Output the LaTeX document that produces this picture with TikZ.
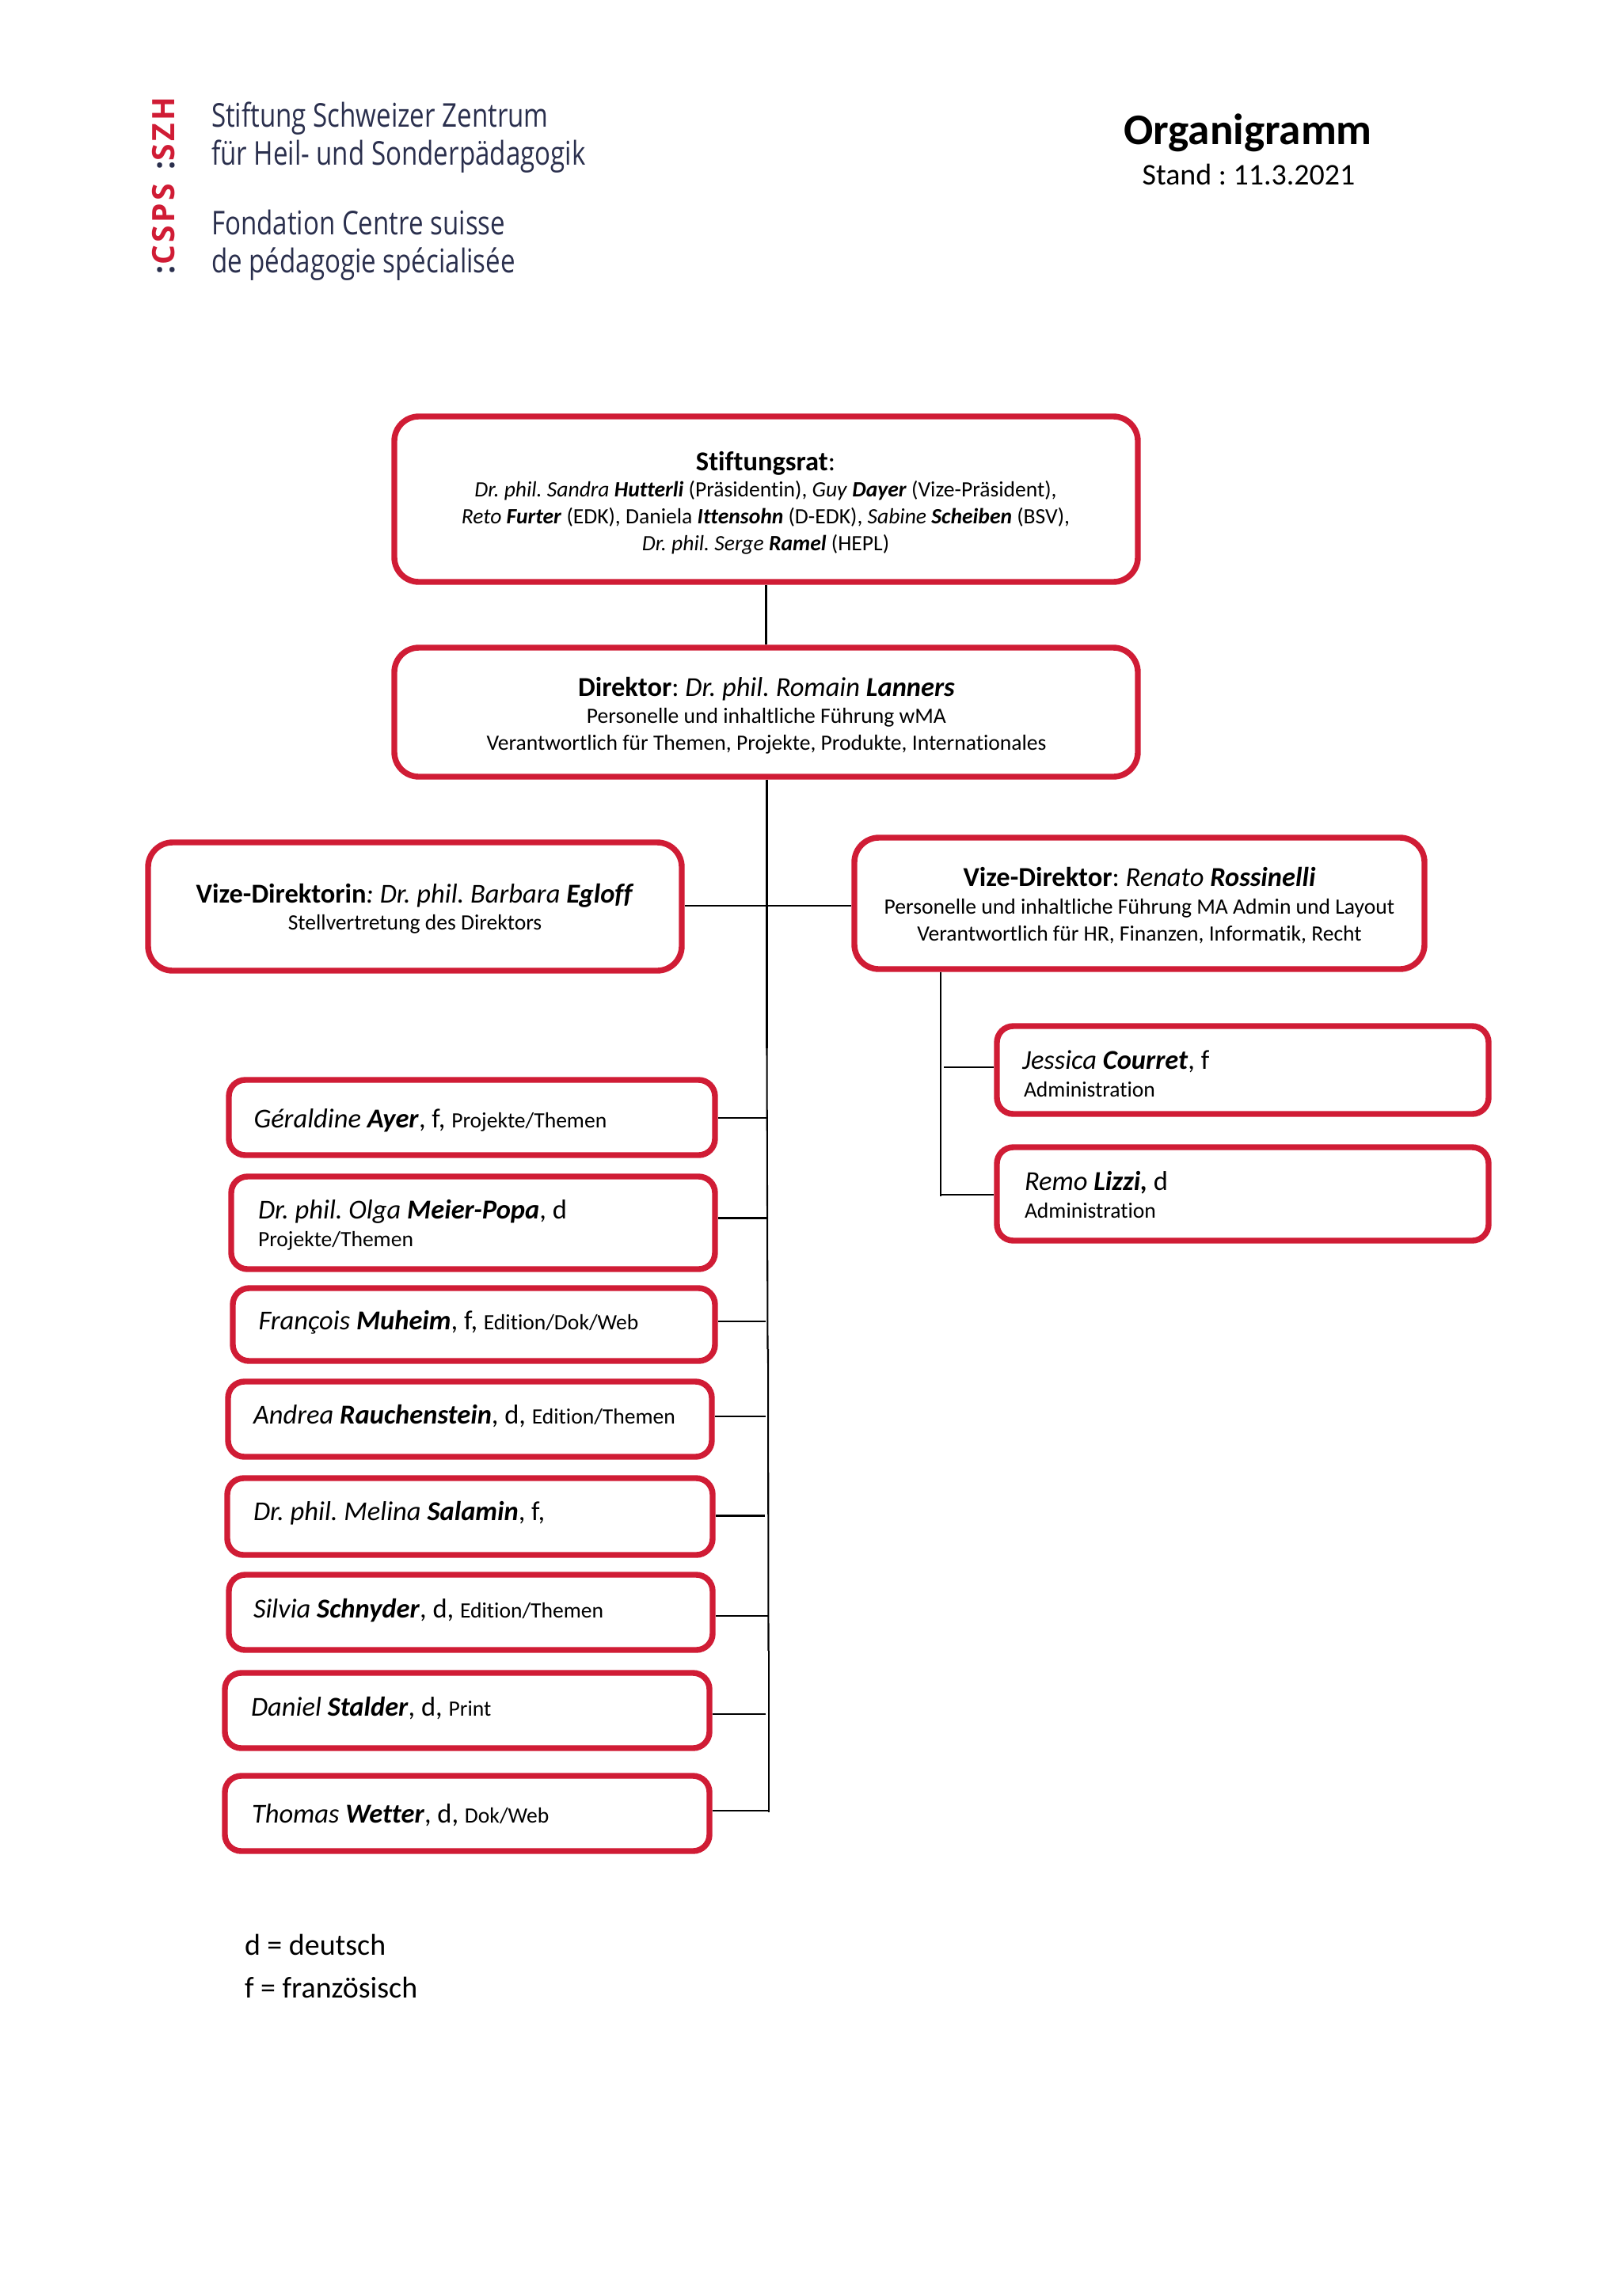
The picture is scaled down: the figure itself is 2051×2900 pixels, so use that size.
\documentclass[tikz,border=0pt]{standalone}
\usepackage{fontspec}
\setmainfont[Ligatures=NoCommon]{Carlito}
\newfontfamily\logofont[FakeStretch=0.8]{Open Sans}
\newfontfamily\logobold[LetterSpace=9]{Open Sans}
\usetikzlibrary{positioning}
\definecolor{cspsred}{HTML}{D01C35}
\definecolor{cspsnavy}{HTML}{2A2F4D}
\tikzset{
  x=0.29pt,y=-0.29pt,
  box/.style={draw=cspsred,line width=2.15pt,rounded corners=9pt,fill=white,inner sep=0pt},
  smallbox/.style={box,rounded corners=6pt},
  conn/.style={draw=black,line width=0.6pt},
  tl/.style={anchor=base west,inner sep=0pt,outer sep=0pt},
  tc/.style={anchor=base,inner sep=0pt,outer sep=0pt},
  logotext/.style={tl,text=cspsnavy,font=\logofont\fontsize{12}{14}\selectfont},
  head/.style={font=\fontsize{10}{12}\selectfont},
  subt/.style={font=\fontsize{8}{10}\selectfont},
  nm/.style={font=\fontsize{10}{12}\selectfont},
}
\newcommand{\bxx}[6][box]{\node[#1,minimum width={(#5-#3)*0.29pt},minimum height={(#6-#4)*0.29pt}] (#2) at ({(#3+#5)/2},{(#4+#6)/2}) {};}
\newcommand{\bi}[1]{\textbf{\textit{#1}}}
\newcommand{\sm}[1]{{\fontsize{8}{10}\selectfont #1}}
\AtBeginDocument{\frenchspacing}
\begin{document}
\begin{tikzpicture}
\useasboundingbox (0,0) rectangle (2051,2900);
\fill[white] (0,0) rectangle (2051,2900);
% logo
\node[tl,rotate=90] (logomark) at (220.5,346) {\logobold\bfseries\fontsize{11.3}{12}\selectfont\textcolor{cspsnavy}{:}\textcolor{cspsred}{CSPS}\hspace{5pt}\textcolor{cspsnavy}{:}\textcolor{cspsred}{SZH}};
\node[logotext] (l1) at (267,160) {Stiftung Schweizer Zentrum};
\node[logotext] (l2) at (267,208) {für Heil- und Sonderpädagogik};
\node[logotext] (l3) at (267,296) {Fondation Centre suisse};
\node[logotext] (l4) at (267,344) {de pédagogie spécialisée};
% title
\node[tc,font=\bfseries\fontsize{16}{20}\selectfont] (title) at (1576,182) {Organigramm};
\node[tc,font=\fontsize{11}{14}\selectfont] (stand) at (1577,233) {Stand : 11.3.2021};
% boxes
\bxx{stift}{498}{526}{1437}{735}
\bxx{dir}{498}{818}{1437}{981}
\bxx{vizein}{187}{1064}{861}{1226}
\bxx{vizeer}{1079}{1058}{1799}{1224}
\bxx[smallbox]{jess}{1259}{1296}{1880}{1407}
\bxx[smallbox]{remo}{1259}{1449}{1880}{1567}
\bxx[smallbox]{ayer}{289}{1364}{903}{1459}
\bxx[smallbox]{meier}{292}{1486}{903}{1603}
\bxx[smallbox]{muh}{294}{1627}{903}{1719}
\bxx[smallbox]{rauch}{288}{1745}{899}{1840}
\bxx[smallbox]{sal}{287}{1867}{900}{1964}
\bxx[smallbox]{schn}{289}{1989}{900}{2084}
\bxx[smallbox]{stal}{284}{2113}{896}{2208}
\bxx[smallbox]{wett}{284}{2243}{896}{2338}
% box texts
\node[tc,head] (t1a) at (967,594) {\textbf{Stiftungsrat}:};
\node[tc,subt] (t1b) at (967,627) {\textit{Dr. phil. Sandra }\bi{Hutterli} (Präsidentin), \textit{Guy }\bi{Dayer} (Vize-Präsident),};
\node[tc,subt] (t1c) at (967,661) {\textit{Reto }\bi{Furter} (EDK), Daniela \bi{Ittensohn} (D-EDK), \textit{Sabine }\bi{Scheiben} (BSV),};
\node[tc,subt] (t1d) at (967,695) {\textit{Dr. phil. Serge }\bi{Ramel} (HEPL)};
\node[tc,head] (t2a) at (968,879) {\textbf{Direktor}: \textit{Dr. phil. Romain }\bi{Lanners}};
\node[tc,subt] (t2b) at (968,913) {Personelle und inhaltliche Führung wMA};
\node[tc,subt] (t2c) at (968,947) {Verantwortlich für Themen, Projekte, Produkte, Internationales};
\node[tc,head] (t3a) at (524,1140) {\textbf{Vize-Direktorin}\textit{: Dr. phil. Barbara }\bi{Egloff}};
\node[tc,subt] (t3b) at (524,1174) {Stellvertretung des Direktors};
\node[tc,head] (t4a) at (1439,1119) {\textbf{Vize-Direktor}: \textit{Renato }\bi{Rossinelli}};
\node[tc,subt] (t4b) at (1439,1154) {Personelle und inhaltliche Führung MA Admin und Layout};
\node[tc,subt] (t4c) at (1439,1188) {Verantwortlich für HR, Finanzen, Informatik, Recht};
\node[tl,nm] (t5a) at (1291,1350) {\textit{Jessica }\bi{Courret}, f};
\node[tl,subt] (t5b) at (1293,1385) {Administration};
\node[tl,nm] (t6a) at (1294,1503) {\textit{Remo }\bi{Lizzi,} d};
\node[tl,subt] (t6b) at (1294,1538) {Administration};
\node[tl,nm] (t7) at (320.5,1424.5) {\textit{Géraldine }\bi{Ayer}, f, \sm{Projekte/Themen}};
\node[tl,nm] (t8a) at (326,1539) {\textit{Dr. phil. Olga }\bi{Meier-Popa}, d};
\node[tl,subt] (t8b) at (326,1574) {Projekte/Themen};
\node[tl,nm] (t9) at (326.5,1679) {\textit{François }\bi{Muheim}, f, \sm{Edition/Dok/Web}};
\node[tl,nm] (t10) at (320,1798) {\textit{Andrea }\bi{Rauchenstein}, d, \sm{Edition/Themen}};
\node[tl,nm] (t11) at (320,1920) {\textit{Dr. phil. Melina }\bi{Salamin}, f,};
\node[tl,nm] (t12) at (320,2043) {\textit{Silvia }\bi{Schnyder}, d, \sm{Edition/Themen}};
\node[tl,nm] (t13) at (317,2167) {\textit{Daniel }\bi{Stalder}, d, \sm{Print}};
\node[tl,nm] (t14) at (318,2302) {\textit{Thomas }\bi{Wetter}, d, \sm{Dok/Web}};
% legend
\node[tl,font=\fontsize{11}{14}\selectfont] (lg1) at (309,2469) {d = deutsch};
\node[tl,font=\fontsize{11}{14}\selectfont] (lg2) at (309,2523) {f = französisch};
% connectors
\coordinate (tvize) at (968.5,1144);
\coordinate (a1) at (968.5,1324);
\coordinate (a2) at (970,1704);
\coordinate (a3) at (971,2085);
\coordinate (a4) at (971,2289);
\draw[conn] (stift.south) -- (dir.north);
\draw[conn] (dir.south -| tvize) -- (a1);
\draw[conn] (a1) -- (969.5,1704);
\draw[conn] (a2) -- (970.5,2085);
\draw[conn] (a3) -- (a4);
\draw[conn] (tvize -| vizein.east) -- (tvize -| vizeer.west);
\coordinate (r0) at (1188,1230);
\coordinate (r1) at (1188,1511);
\coordinate (rj) at (1192,1348);
\coordinate (rr) at (1188,1509);
\draw[conn] (r0 |- vizeer.south) -- (r1);
\draw[conn] (rj) -- (rj -| jess.west);
\draw[conn] (rr) -- (rr -| remo.west);
\coordinate (h1) at (968,1412);
\coordinate (h2) at (968,1538.5);
\coordinate (h3) at (967,1669);
\coordinate (h4) at (967,1789);
\coordinate (h5) at (966,1914.5);
\coordinate (h6) at (970,2041);
\coordinate (h7) at (967,2165);
\coordinate (h8) at (971,2287);
\draw[conn] (h1) -- (h1 -| ayer.east);
\draw[conn] (h2) -- (h2 -| meier.east);
\draw[conn] (h3) -- (h3 -| muh.east);
\draw[conn] (h4) -- (h4 -| rauch.east);
\draw[conn] (h5) -- (h5 -| sal.east);
\draw[conn] (h6) -- (h6 -| schn.east);
\draw[conn] (h7) -- (h7 -| stal.east);
\draw[conn] (h8) -- (h8 -| wett.east);
\end{tikzpicture}
\end{document}
